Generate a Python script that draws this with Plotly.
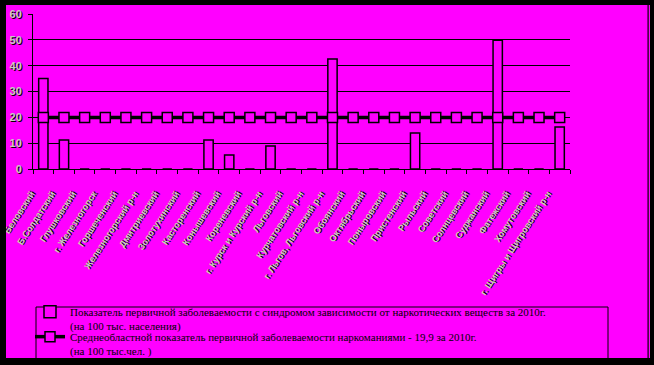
import plotly.graph_objects as go

# ---------------- data ----------------
districts = [
    "Беловский", "Б.Солдатский", "Глушковский", "г. Железногорск", "Горшеченский",
    "Железногорский р-н", "Дмитриевский", "Золотухинский", "Касторенский", "Конышевский",
    "Кореневский", "г. Курск и Курский р-н", "Льговский", "Курчатовский р-н", "г. Льгов, Льговский р-н",
    "Обоянский", "Октябрьский", "Поныровский", "Пристенский", "Рыльский",
    "Советский", "Солнцевский", "Суджанский", "Фатежский", "Хомутовский",
    "г. Щигры и Щигровский р-н",
]
district_rate = [35.0, 11.2, 0, 0, 0, 0, 0, 0, 11.2, 5.4,
                 0, 8.9, 0, 0, 42.6, 0, 0, 0, 13.9, 0,
                 0, 0, 49.8, 0, 0, 16.3]
regional_avg = [19.9] * len(districts)
y_ticks = [0, 10, 20, 30, 40, 50, 60]

name_bar = ("Показатель первичной заболеваемости с синдромом зависимости от наркотических веществ за 2010г."
            "<br>(на 100 тыс. населения)")
name_line = ("Среднеобластной показатель первичной заболеваемости наркоманиями - 19,9 за 2010г."
             "<br>(на 100 тыс.чел. )")

# ---------------- layout geometry ----------------
W, H = 654, 365
L, R, T, B = 33, 84, 14, 196
PW, PH = W - L - R, H - T - B
MAGENTA = "#ff00ff"


def px(x):
    return (x - L) / PW


def py(y):
    return (H - B - y) / PH


fig = go.Figure()
fig.add_trace(go.Bar(
    x=districts, y=district_rate, name=name_bar, legend="legend",
    marker=dict(color=MAGENTA, line=dict(color="black", width=1.5)),
))
fig.add_trace(go.Scatter(
    x=districts, y=regional_avg, name=name_line, mode="lines+markers", legend="legend2",
    line=dict(color="black", width=3.5),
    marker=dict(symbol="square", size=10, color=MAGENTA, line=dict(color="black", width=1.5)),
))

tick_font_shadow = "1px 1px 0px #000000"
legend_font = dict(family="Liberation Serif", size=11, color="black")

fig.update_layout(
    width=W, height=H,
    margin=dict(l=L, r=R, t=T, b=B, pad=0, autoexpand=False),
    paper_bgcolor=MAGENTA, plot_bgcolor=MAGENTA,
    bargap=0.55,
    showlegend=True,
    legend=dict(
        x=px(30), y=py(298), xanchor="left", yanchor="top",
        bgcolor="rgba(0,0,0,0)", borderwidth=0, font=legend_font, valign="top",
    ),
    legend2=dict(
        x=px(30), y=py(323), xanchor="left", yanchor="top",
        bgcolor="rgba(0,0,0,0)", borderwidth=0, font=legend_font, valign="top",
    ),
    xaxis=dict(
        type="category", automargin=False, range=[-0.5, len(districts) - 0.5],
        showline=True, linecolor="black", linewidth=1,
        ticks="outside", tickson="boundaries", ticklen=4, tickcolor="black",
        showgrid=False, tickangle=-57, ticklabelstandoff=15, ticklabelshift=-12,
        tickfont=dict(family="Liberation Sans", size=9, color="#c8c8c8", weight="bold",
                      shadow=tick_font_shadow),
    ),
    yaxis=dict(
        range=[0, 60], tickvals=y_ticks, automargin=False, ticklabelstandoff=4,
        showline=True, linecolor="black", linewidth=1,
        showgrid=True, gridcolor="black", gridwidth=1,
        ticks="outside", ticklen=4, tickcolor="black", zeroline=False,
        tickfont=dict(family="Liberation Sans", size=11, color="#c8c8c8", weight="bold",
                      shadow=tick_font_shadow),
    ),
    shapes=[
        # legend frame
        dict(type="rect", xref="paper", yref="paper", x0=px(36), x1=px(608), y0=py(362), y1=py(307),
             line=dict(color="black", width=1), fillcolor="rgba(0,0,0,0)", layer="above"),
        # outer black frame
        dict(type="rect", xref="paper", yref="paper", x0=px(0), x1=px(W), y0=py(0), y1=py(5),
             line=dict(width=0), fillcolor="black", layer="above"),
        dict(type="rect", xref="paper", yref="paper", x0=px(0), x1=px(6), y0=py(H), y1=py(0),
             line=dict(width=0), fillcolor="black", layer="above"),
        dict(type="rect", xref="paper", yref="paper", x0=px(650), x1=px(W), y0=py(H), y1=py(0),
             line=dict(width=0), fillcolor="black", layer="above"),
        dict(type="rect", xref="paper", yref="paper", x0=px(647.5), x1=px(648.7), y0=py(H), y1=py(0),
             line=dict(width=0), fillcolor="black", layer="above"),
        dict(type="rect", xref="paper", yref="paper", x0=px(0), x1=px(W), y0=py(H), y1=py(358),
             line=dict(width=0), fillcolor="black", layer="above"),
    ],
)

fig.write_html("out.html", config={"displayModeBar": False},
               post_script="document.body.style.margin='0';document.body.style.overflow='hidden';")
